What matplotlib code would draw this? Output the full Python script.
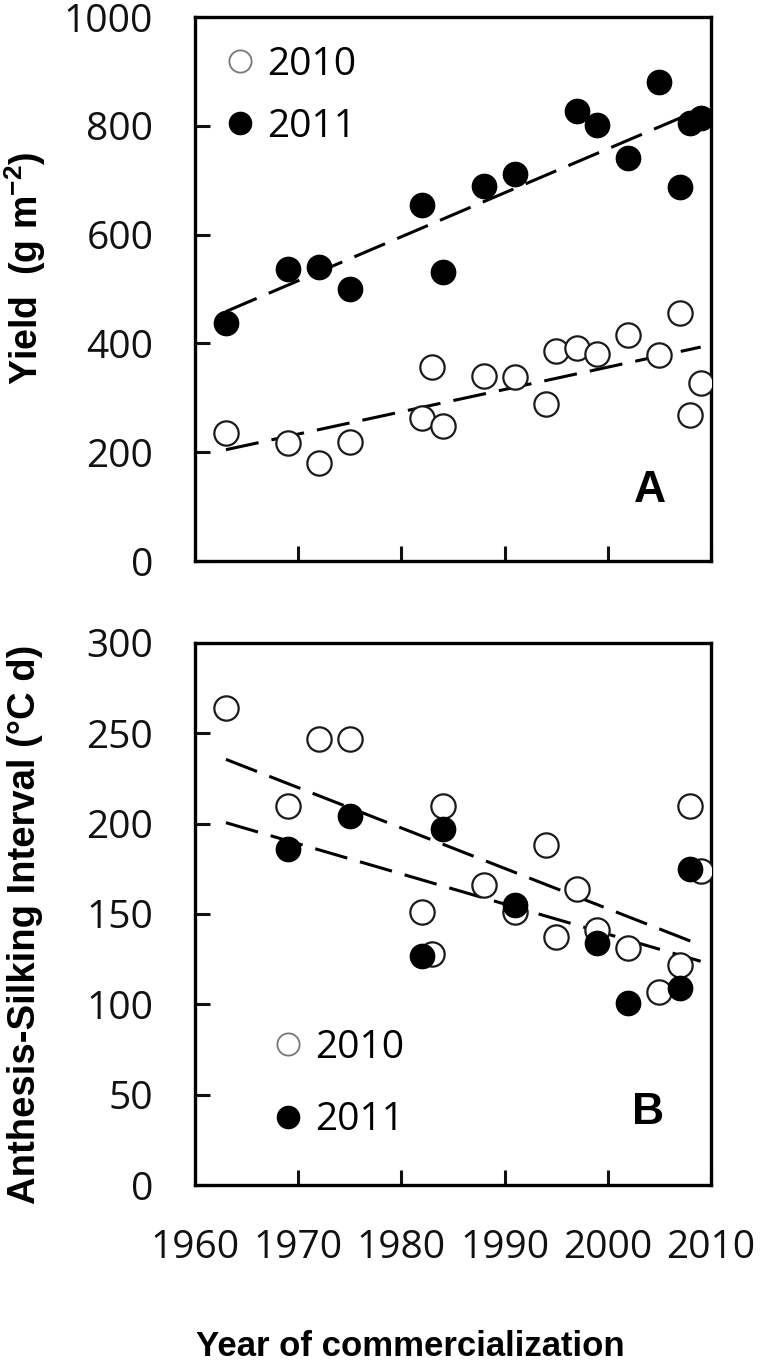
import numpy as np
import matplotlib
matplotlib.use("Agg")
import matplotlib.pyplot as plt
from matplotlib.lines import Line2D

plt.rcParams['font.family'] = ['Open Sans', 'DejaVu Sans']
plt.rcParams['lines.scale_dashes'] = False
plt.rcParams['mathtext.fontset'] = 'custom'
plt.rcParams['mathtext.rm'] = 'Liberation Sans:bold'
plt.rcParams['mathtext.default'] = 'rm'

# ---------------- data ----------------
# panel A: yield (g m-2)
yield_years_2010 = [1963, 1969, 1972, 1975, 1982, 1983, 1984, 1988, 1991,
                    1994, 1995, 1997, 1999, 2002, 2005, 2007, 2008, 2009]
yield_2010 = [235, 217, 180, 219, 263, 357, 248, 340, 338,
              289, 386, 391, 380, 415, 379, 456, 268, 327]
yield_years_2011 = [1963, 1969, 1972, 1975, 1982, 1984, 1988, 1991,
                    1997, 1999, 2002, 2005, 2007, 2008, 2009]
yield_2011 = [438, 537, 540, 500, 655, 532, 690, 712,
              828, 802, 740, 880, 688, 805, 814]

# panel B: anthesis-silking interval (degC d)
asi_years_2010 = [1963, 1969, 1972, 1975, 1982, 1983, 1984, 1988, 1991,
                  1994, 1995, 1997, 1999, 2002, 2005, 2007, 2008, 2009]
asi_2010 = [264, 210, 247, 247, 151, 128, 210, 166, 151,
            188, 137, 164, 141, 131, 107, 122, 210, 174]
asi_years_2011 = [1969, 1975, 1982, 1984, 1991, 1999, 2002, 2007, 2008]
asi_2011 = [186, 204, 127, 197, 155, 134, 101, 109, 175]

x_ticks = [1960, 1970, 1980, 1990, 2000, 2010]
yield_ticks = [0, 200, 400, 600, 800, 1000]
asi_ticks = [0, 50, 100, 150, 200, 250, 300]

# ---------------- figure ----------------
W, H = 760, 1366
fig = plt.figure(figsize=(W / 100, H / 100), dpi=100)

def frac(left, top, right, bottom):
    return [left / W, 1 - bottom / H, (right - left) / W, (bottom - top) / H]

axA = fig.add_axes(frac(195, 17, 711, 561))
axB = fig.add_axes(frac(195, 643, 711, 1185))

tick_size = 28
lab_font = ['Liberation Sans', 'DejaVu Sans']


def trend(ax, years, vals, span):
    k, b = np.polyfit(years, vals, 1)
    xs = np.array(span)
    ax.plot(xs, k * xs + b, color='black', lw=2.2, dashes=(24, 9.5),
            solid_capstyle='butt', dash_capstyle='butt', zorder=4)


def style(ax, yticks, ylim):
    ax.set_xlim(1960, 2010)
    ax.set_ylim(*ylim)
    ax.set_xticks(x_ticks)
    ax.set_yticks(yticks)
    for s in ax.spines.values():
        s.set_linewidth(2.4)
    ax.tick_params(direction='in', length=11, width=2.2, labelsize=tick_size,
                   colors='#111111')
    ax.tick_params(axis='y', pad=30)
    ax.tick_params(axis='x', pad=32)


def scatter(ax, x10, y10, x11, y11):
    ax.plot(x10, y10, 'o', ms=17.5, mfc='white', mec='#1a1a1a', mew=1.6,
            ls='none', zorder=5)
    ax.plot(x11, y11, 'o', ms=17.5, mfc='black', mec='black', mew=1.0,
            ls='none', zorder=6)


def legend(ax, anchor, spacing):
    h = [Line2D([], [], marker='o', ls='none', ms=16, mfc='white', mec='#777777', mew=1.3),
         Line2D([], [], marker='o', ls='none', ms=16, mfc='black', mec='black')]
    ax.legend(h, ['2010', '2011'], loc='upper left', bbox_to_anchor=anchor,
              frameon=False, fontsize=tick_size, handlelength=0.95,
              handletextpad=0.2, borderpad=0, borderaxespad=0,
              labelspacing=spacing)


# panel A
span = [1963, 2009]
scatter(axA, yield_years_2010, yield_2010, yield_years_2011, yield_2011)
trend(axA, yield_years_2010, yield_2010, span)
trend(axA, yield_years_2011, yield_2011, span)
style(axA, yield_ticks, (0, 1000))
axA.tick_params(axis='x', labelbottom=False)
legend(axA, ((222 - 195) / 516, (561 - 46) / 544), 0.62)
axA.text((650 - 195) / 516, (561 - 490) / 544, 'A', transform=axA.transAxes,
         ha='center', va='center', fontsize=32, fontweight='bold',
         family=['Liberation Sans', 'DejaVu Sans'])

# panel B
scatter(axB, asi_years_2010, asi_2010, asi_years_2011, asi_2011)
trend(axB, asi_years_2010, asi_2010, span)
trend(axB, asi_years_2011, asi_2011, span)
style(axB, asi_ticks, (0, 300))
legend(axB, ((270 - 195) / 516, (1185 - 1029) / 542), 0.88)
axB.text((648 - 195) / 516, (1185 - 1113) / 542, 'B', transform=axB.transAxes,
         ha='center', va='center', fontsize=32, fontweight='bold',
         family=['Liberation Sans', 'DejaVu Sans'])

# axis titles
fig.text(25 / W, 1 - 268 / H, 'Yield  (g m$^{-2}$)', rotation=90,
         ha='center', va='center', fontsize=27, fontweight='bold', family=lab_font)
fig.text(25 / W, 1 - 924 / H, 'Anthesis-Silking Interval (°C d)', rotation=90,
         ha='center', va='center', fontsize=27.5, fontweight='bold', family=lab_font)
fig.text(410 / W, 1 - 1347 / H, 'Year of commercialization',
         ha='center', va='center', fontsize=25, fontweight='bold', family=lab_font)

fig.savefig('out.png', dpi=100)
